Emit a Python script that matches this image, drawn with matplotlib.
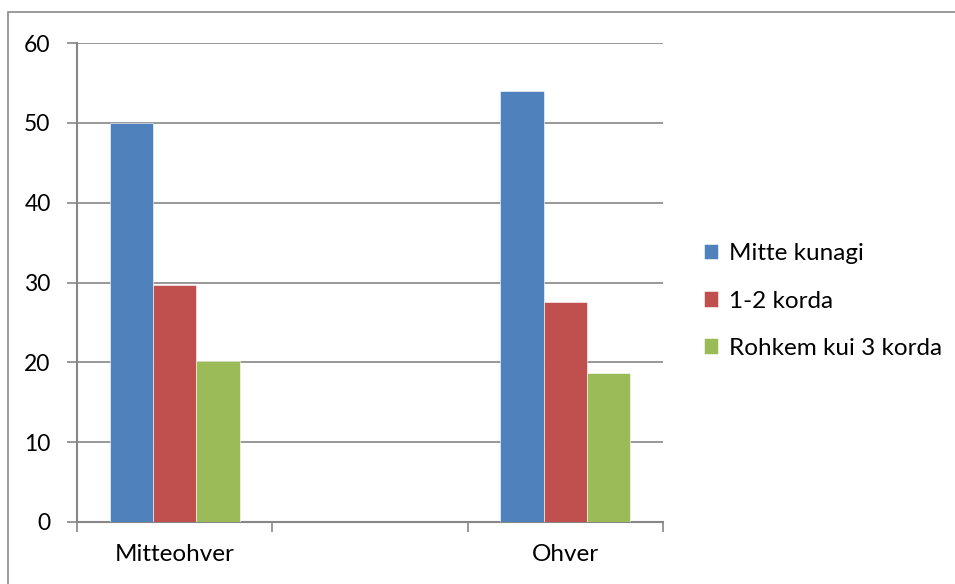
import numpy as np
import matplotlib.pyplot as plt
from matplotlib.patches import Rectangle

plt.rcParams['font.family'] = ['Lato', 'DejaVu Sans']

categories = ["Mitteohver", "", "Ohver"]
series = ["Mitte kunagi", "1-2 korda", "Rohkem kui 3 korda"]
mitte_kunagi = [50.0, np.nan, 54.0]
korda_1_2 = [29.7, np.nan, 27.5]
rohkem_3 = [20.2, np.nan, 18.7]
colors = ["#4F81BD", "#C0504D", "#9BBB59"]

fig = plt.figure(figsize=(9.55, 5.84), dpi=100)
ax = fig.add_axes([77/955, 1 - 522/584, (663 - 77)/955, (522 - 43)/584])

x = np.arange(len(categories))
w = 0.222
for i, (vals, name) in enumerate(zip([mitte_kunagi, korda_1_2, rohkem_3], series)):
    ax.bar(x + (i - 1) * w, vals, width=w, color=colors[i], label=name,
           edgecolor="white", linewidth=0.4, zorder=3)

grid_c = "#868686"
fs = 17.5
ax.set_ylim(0, 60)
ax.set_yticks(range(0, 61, 10))
ax.set_xlim(-0.5, 2.5)
ax.set_xticks(x)
ax.set_xticklabels(categories)
ax.set_xticks(np.arange(-0.5, 2.6, 1), minor=True)
ax.yaxis.grid(True, color=grid_c, linewidth=1.2, zorder=0)
for s in ["top", "right"]:
    ax.spines[s].set_visible(False)
for s in ["left", "bottom"]:
    ax.spines[s].set_color(grid_c)
    ax.spines[s].set_linewidth(1.5)
ax.tick_params(axis="y", length=7, width=1.2, color=grid_c, pad=12, labelsize=16.5)
ax.tick_params(axis="x", which="major", length=0, pad=16, labelsize=fs)
ax.tick_params(axis="x", which="minor", length=7, width=1.2, color=grid_c)

ax.legend(loc="center left", bbox_to_anchor=((694 - 77) / 586, (522 - 301) / 479),
          frameon=False, fontsize=fs, handlelength=0.6, handleheight=0.6,
          handletextpad=0.45, labelspacing=1.08, borderaxespad=0)

fig.add_artist(Rectangle((8/955, -0.1), 1.2, 1.1 - 12/584, transform=fig.transFigure,
                         fill=False, edgecolor="#898989", linewidth=1.2))

fig.savefig("out.png", dpi=100)
